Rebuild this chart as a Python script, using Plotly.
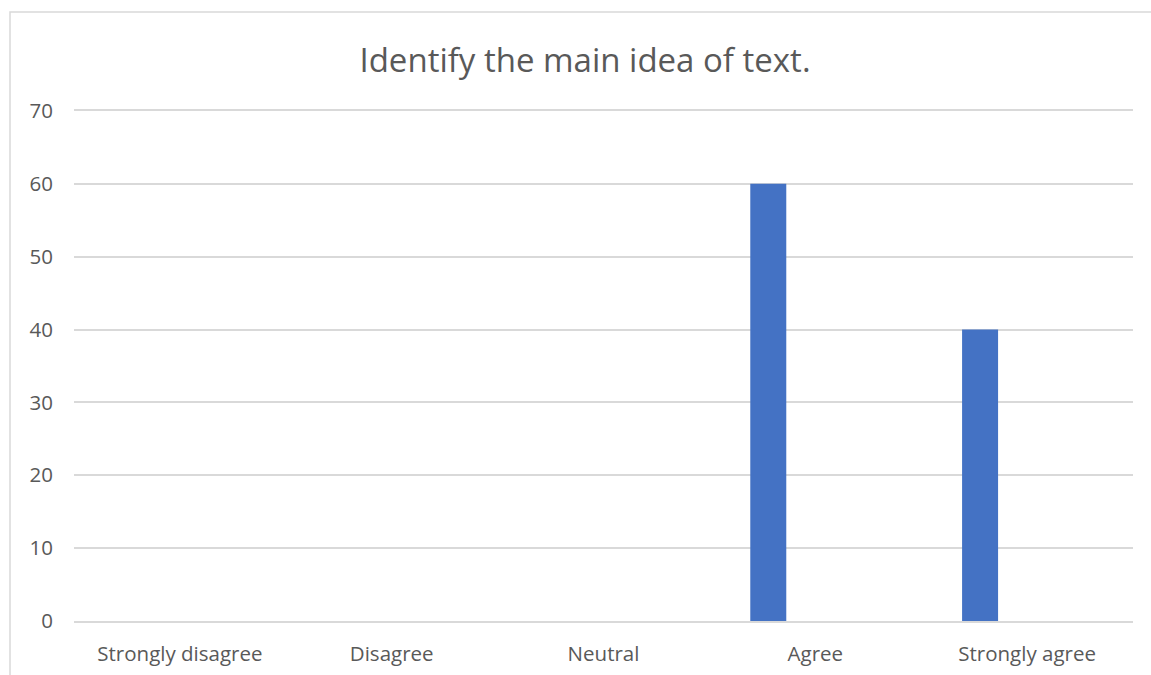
import plotly.graph_objects as go

# Survey responses for the statement
categories = ["Strongly disagree", "Disagree", "Neutral", "Agree", "Strongly agree"]
percentages = [0, 0, 0, 60, 40]
y_ticks = [0, 10, 20, 30, 40, 50, 60, 70]

W, H = 1151, 675
LEFT, RIGHT, TOP, BOTTOM = 74, 18, 111, 54
plot_w = W - LEFT - RIGHT
plot_h = H - TOP - BOTTOM

text_color = "#595959"
grid_color = "#d9d9d9"
font_family = "Open Sans, Lato, sans-serif"

fig = go.Figure()
fig.add_trace(go.Bar(
    x=categories,
    y=percentages,
    marker=dict(color="#4472C4", line=dict(width=0)),
    width=0.17,
    offset=-0.307,
    hoverinfo="x+y",
))

# Outer chart-area frame
fig.add_shape(
    type="rect", xref="paper", yref="paper",
    x0=(10 - LEFT) / plot_w, x1=1.2,
    y0=-0.3, y1=(H - BOTTOM - 12) / plot_h,
    line=dict(color=grid_color, width=1.5),
    fillcolor="rgba(0,0,0,0)",
    layer="below",
)

fig.update_layout(
    width=W, height=H,
    margin=dict(l=LEFT, r=RIGHT, t=TOP, b=BOTTOM, autoexpand=False),
    paper_bgcolor="white",
    plot_bgcolor="white",
    showlegend=False,
    title=dict(
        text="Identify the main idea of text.",
        x=585 / W, xref="container", xanchor="center",
        y=1 - 60 / H, yref="container", yanchor="middle",
        font=dict(family=font_family, size=33, color=text_color),
    ),
    xaxis=dict(
        type="category",
        showgrid=False,
        # bottom and mirrored top lines act as the 0 and 70 gridlines
        showline=True,
        mirror=True,
        linecolor=grid_color,
        linewidth=1.5,
        zeroline=False,
        ticks="",
        tickfont=dict(family=font_family, size=20.5, color=text_color),
        ticklabelstandoff=14,
        fixedrange=True,
    ),
    yaxis=dict(
        range=[0, 70],
        tickvals=y_ticks,
        showgrid=True,
        gridcolor=grid_color,
        gridwidth=1.5,
        zeroline=False,
        showline=False,
        ticks="",
        tickfont=dict(family=font_family, size=20.5, color=text_color),
        ticklabelstandoff=20,
        fixedrange=True,
    ),
)

fig.write_html("out.html")
